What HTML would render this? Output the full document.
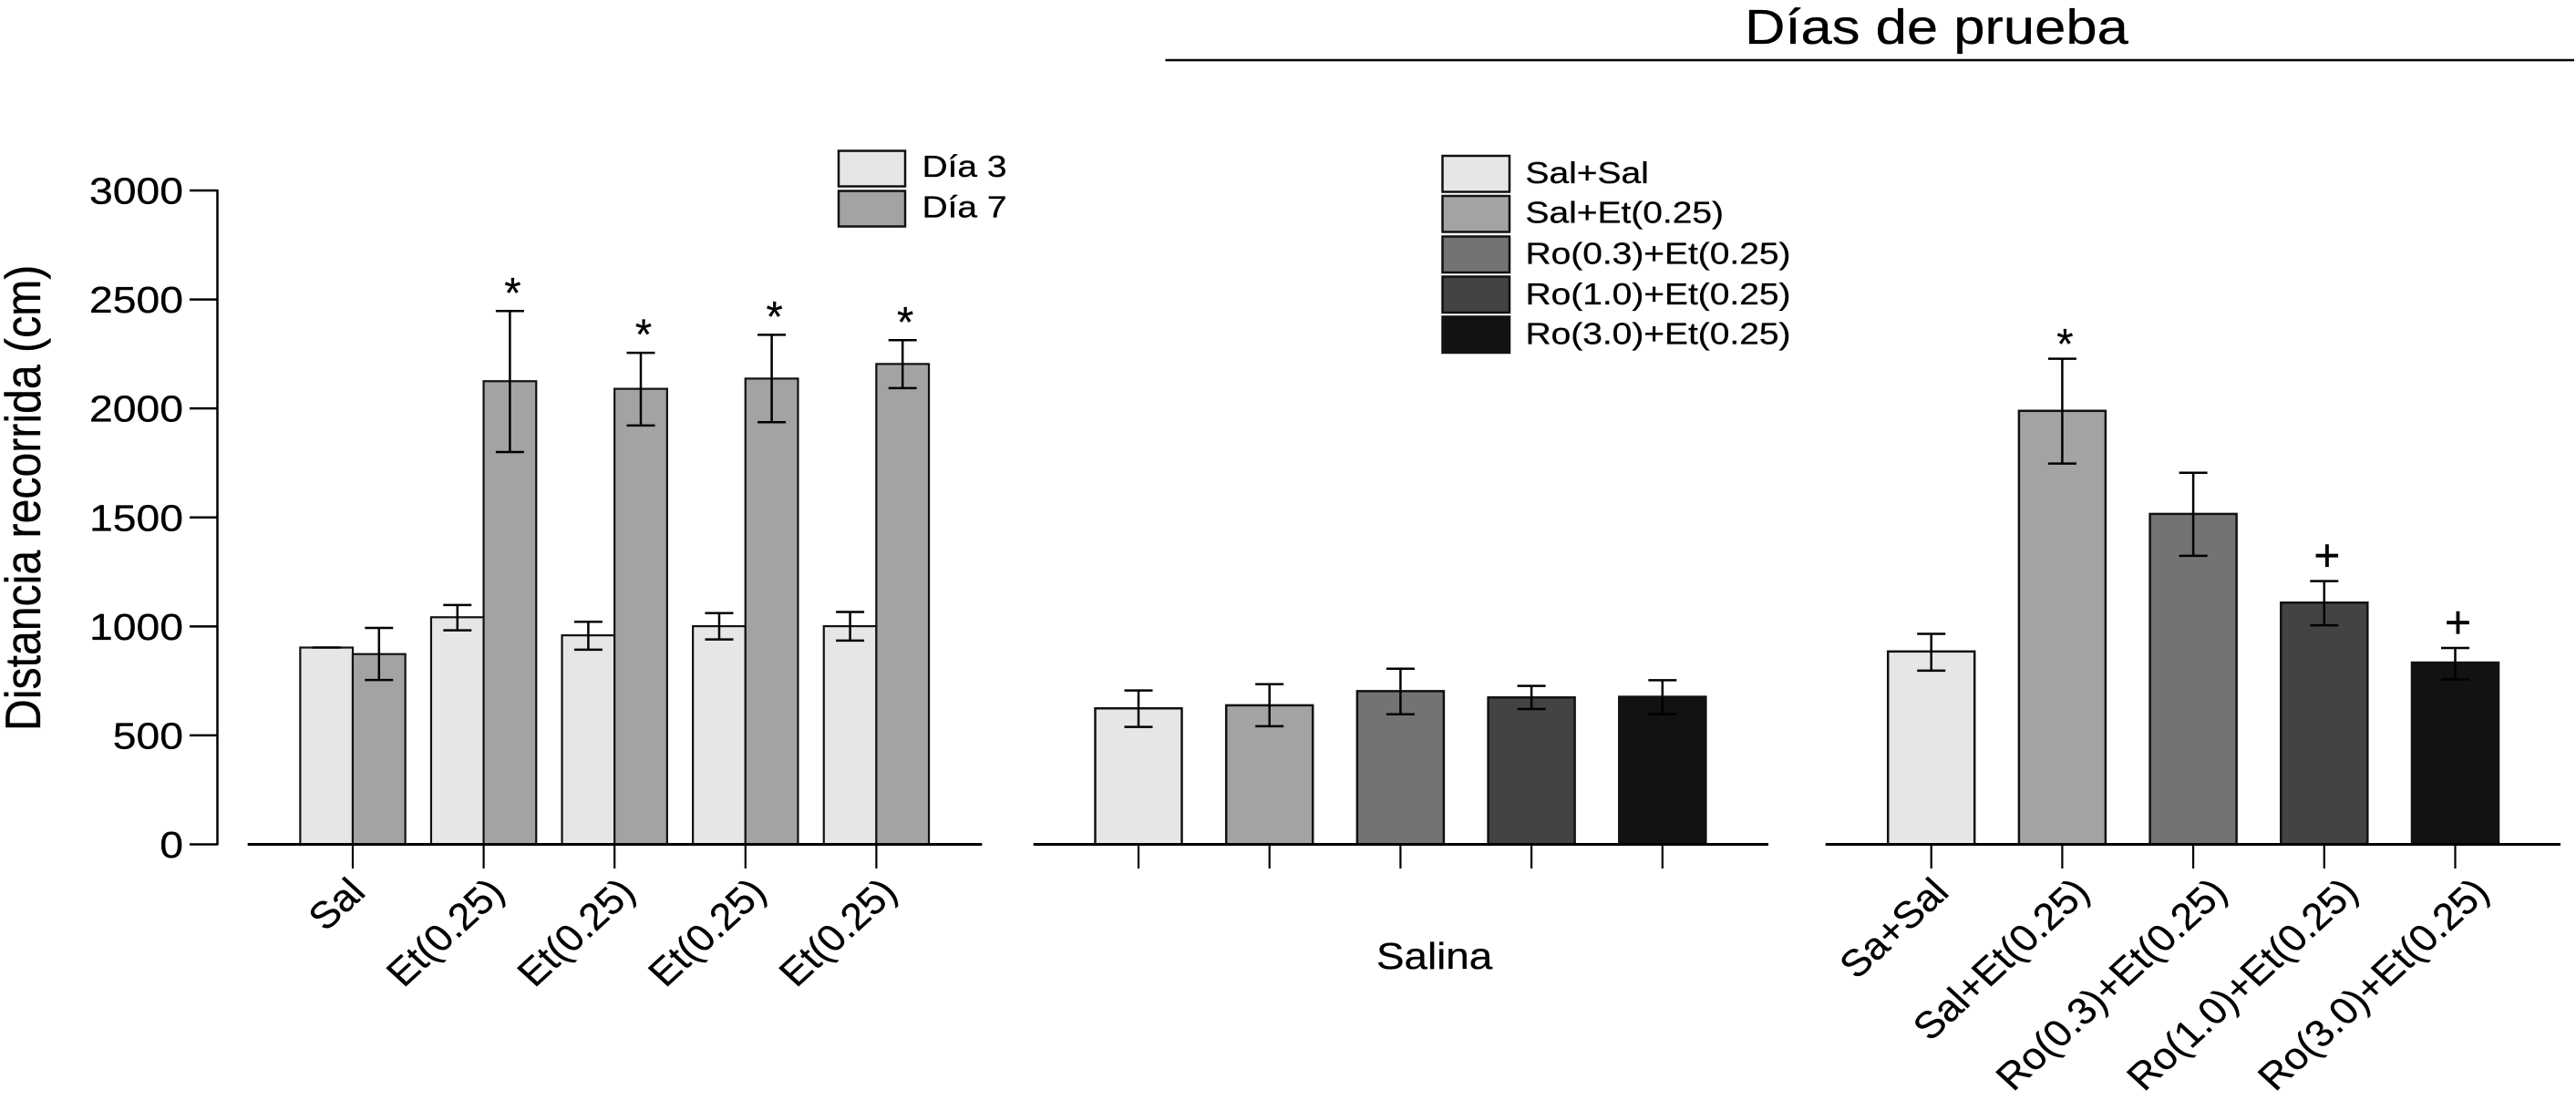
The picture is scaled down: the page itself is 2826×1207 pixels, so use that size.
<!DOCTYPE html>
<html lang="es">
<head>
<meta charset="utf-8">
<title>Distancia recorrida</title>
<style>
html,body{margin:0;padding:0;background:#fff;width:2826px;height:1207px;overflow:hidden}
svg{display:block}
text{font-family:"Liberation Sans",Arial,sans-serif;fill:#000;stroke:#000;stroke-width:0.3px}
</style>
</head>
<body>
<svg id="chart" xmlns="http://www.w3.org/2000/svg" width="2826" height="1207" viewBox="0 0 2826 1207">
  <rect x="0" y="0" width="2826" height="1207" fill="#fff"/>
  <text transform="translate(1914,48) scale(1.14,1)" font-size="54">Días de prueba</text>
  <line x1="1278.5" y1="66" x2="2824" y2="66" stroke="#000" stroke-width="2.5"/>
  <text transform="translate(44,802) scale(1.13,1) rotate(-90)" font-size="48.2">Distancia recorrida (cm)</text>

  <g>
    <rect x="920" y="165.5" width="73" height="39" fill="#e6e6e6" stroke="#111" stroke-width="2.5"/>
    <text transform="translate(1011.5,194) scale(1.18,1)" font-size="33">Día 3</text>
    <rect x="920" y="209.5" width="73" height="39" fill="#a2a4a3" stroke="#111" stroke-width="2.5"/>
    <text transform="translate(1011.5,238.5) scale(1.18,1)" font-size="33">Día 7</text>
  </g>
  <g>
    <rect x="1582.5" y="171" width="73.5" height="39.5" fill="#e6e6e6" stroke="#111" stroke-width="2.5"/>
    <text transform="translate(1673.5,201) scale(1.18,1)" font-size="33">Sal+Sal</text>
    <rect x="1582.5" y="215" width="73.5" height="39.5" fill="#a2a4a3" stroke="#111" stroke-width="2.5"/>
    <text transform="translate(1673.5,244.5) scale(1.18,1)" font-size="33">Sal+Et(0.25)</text>
    <rect x="1582.5" y="259.5" width="73.5" height="39.5" fill="#737373" stroke="#111" stroke-width="2.5"/>
    <text transform="translate(1673.5,289.5) scale(1.18,1)" font-size="33">Ro(0.3)+Et(0.25)</text>
    <rect x="1582.5" y="303.5" width="73.5" height="39.5" fill="#434341" stroke="#111" stroke-width="2.5"/>
    <text transform="translate(1673.5,334) scale(1.18,1)" font-size="33">Ro(1.0)+Et(0.25)</text>
    <rect x="1582.5" y="347.5" width="73.5" height="39.5" fill="#121212" stroke="#111" stroke-width="2.5"/>
    <text transform="translate(1673.5,377.5) scale(1.18,1)" font-size="33">Ro(3.0)+Et(0.25)</text>
  </g>
  <text transform="translate(1510,1063) scale(1.13,1)" font-size="40.5">Salina</text>
</svg>
<script>
const yTicks = [0, 500, 1000, 1500, 2000, 2500, 3000];

const acuteLabels = ['Sal', 'Et(0.25)', 'Et(0.25)', 'Et(0.25)', 'Et(0.25)'];
const day3Means = [903, 1042, 959, 1001, 1001];
const day3High = [903, 1098, 1021, 1061, 1066];
const day3Low = [903, 982, 893, 940, 935];
const day7Means = [873, 2125, 2090, 2137, 2204];
const day7High = [993, 2447, 2255, 2338, 2313];
const day7Low = [754, 1800, 1922, 1937, 2093];
const day7Marks = ['', '*', '*', '*', '*'];

const salineMeans = [624, 638, 703, 674, 677];
const salineHigh = [706, 735, 806, 727, 753];
const salineLow = [539, 542, 597, 621, 598];

const treatLabels = ['Sa+Sal', 'Sal+Et(0.25)', 'Ro(0.3)+Et(0.25)', 'Ro(1.0)+Et(0.25)', 'Ro(3.0)+Et(0.25)'];
const treatMeans = [885, 1989, 1516, 1109, 834];
const treatHigh = [966, 2228, 1705, 1208, 901];
const treatLow = [797, 1747, 1324, 1005, 757];
const treatMarks = ['', '*', '', '+', '+'];

const groupColors = ['#e6e6e6', '#a2a4a3', '#737373', '#434341', '#121212'];

const svg = document.getElementById('chart');
const NS = 'http://www.w3.org/2000/svg';
const LABEL_STRETCH = 1.088;
const TEXT_STRETCH = 1.13;

function yScale(v) { return 926.5 - v * 717.5 / 3000; }
function xAcute(i) { return 387 + 143.6 * i; }
function xSaline(i) { return 1249 + 143.7 * i; }
function xTreat(i) { return 2118.7 + 143.7 * i; }

function shape(tag, attrs) {
  const n = document.createElementNS(NS, tag);
  for (const k in attrs) n.setAttribute(k, attrs[k]);
  svg.appendChild(n);
  return n;
}
function placedText(str, x, y, size, anchor, rot, stretch) {
  const n = shape('text', {
    transform: 'translate(' + x + ',' + y + ') scale(' + stretch + ',1) rotate(' + rot + ')',
    'font-size': size,
    'text-anchor': anchor
  });
  n.textContent = str;
  return n;
}
function drawBar(cx, width, value, color, prefix, strokeW) {
  const rect = shape('rect', {
    x: cx - width / 2, y: yScale(value), width: width, height: yScale(0) - yScale(value),
    fill: color, stroke: '#111', 'stroke-width': strokeW
  });
  
  
}
function drawError(cx, high, low, prefix) {
  const g = shape('path', {
    d: 'M' + (cx - 15.5) + ' ' + yScale(high) + 'H' + (cx + 15.5) +
       'M' + cx + ' ' + yScale(high) + 'V' + yScale(low) +
       'M' + (cx - 15.5) + ' ' + yScale(low) + 'H' + (cx + 15.5),
    fill: 'none', stroke: '#000', 'stroke-width': 2.5
  });
  
  
}
function drawMark(cx, high, mark, prefix, lift) {
  if (!mark) return;
  const isStar = mark === '*';
  const n = shape('text', {
    x: cx + 3, y: yScale(high) + (isStar ? 0 : -11) - lift,
    'font-size': isStar ? 47 : 50, 'text-anchor': 'middle'
  });
  n.textContent = mark;
  
  
}
function drawBaseline(x1, x2, name) {
  const l = shape('line', { x1: x1, x2: x2, y1: yScale(0), y2: yScale(0), stroke: '#000', 'stroke-width': 3 });
  
  
}
function drawXTick(x, name) {
  const l = shape('line', { x1: x, x2: x, y1: yScale(0), y2: 953, stroke: '#000', 'stroke-width': 2.2 });
  
  
}
function drawXLabel(str, tickX, name) {
  const t = placedText(str, tickX + 10.5 + 1.8 * str.length, 981, 41.2, 'end', -45, LABEL_STRETCH);
  
  
}

/* y axis */
const yLine = shape('line', { x1: 238.5, x2: 238.5, y1: yScale(3000) - 1, y2: yScale(0) + 1, stroke: '#000', 'stroke-width': 2.5 });


yTicks.forEach(function (v) {
  const tick = shape('line', { x1: 208, x2: 238.5, y1: yScale(v), y2: yScale(v), stroke: '#000', 'stroke-width': 2.5 });
  
  
  const lab = placedText(String(v), 201, yScale(v) + 14.5, 41, 'end', 0, TEXT_STRETCH);
  
  
});

/* panel 1 */
acuteLabels.forEach(function (lab, i) {
  const cx = xAcute(i);
  drawBar(cx - 28.8, 57.7, day3Means[i], groupColors[0], 'acute-day3-' + i, 2.2);
  drawBar(cx + 28.8, 57.7, day7Means[i], groupColors[1], 'acute-day7-' + i, 2.2);
  drawError(cx - 28.8, day3High[i], day3Low[i], 'acute-day3-' + i);
  drawError(cx + 28.8, day7High[i], day7Low[i], 'acute-day7-' + i);
  drawMark(cx + 28.8, day7High[i], day7Marks[i], 'acute-day7-' + i, 4);
});
drawBaseline(271.7, 1077.4, 'acute-x-axis');
acuteLabels.forEach(function (lab, i) {
  drawXTick(xAcute(i), 'acute-x-tick-' + i);
  drawXLabel(lab, xAcute(i), 'acute-x-label-' + i);
});

/* panel 2 */
salineMeans.forEach(function (v, i) {
  const cx = xSaline(i);
  drawBar(cx, 95, v, groupColors[i], 'saline-' + i, 2.5);
  drawError(cx, salineHigh[i], salineLow[i], 'saline-' + i);
});
drawBaseline(1133.7, 1940, 'saline-x-axis');
salineMeans.forEach(function (v, i) {
  drawXTick(xSaline(i), 'saline-x-tick-' + i);
});

/* panel 3 */
treatMeans.forEach(function (v, i) {
  const cx = xTreat(i);
  drawBar(cx, 95, v, groupColors[i], 'treatment-' + i, 2.5);
  drawError(cx, treatHigh[i], treatLow[i], 'treatment-' + i);
  drawMark(cx, treatHigh[i], treatMarks[i], 'treatment-' + i, 0);
});
drawBaseline(2002.7, 2809, 'treatment-x-axis');
treatLabels.forEach(function (lab, i) {
  drawXTick(xTreat(i), 'treatment-x-tick-' + i);
  drawXLabel(lab, xTreat(i), 'treatment-x-label-' + i);
});
</script>
</body>
</html>
